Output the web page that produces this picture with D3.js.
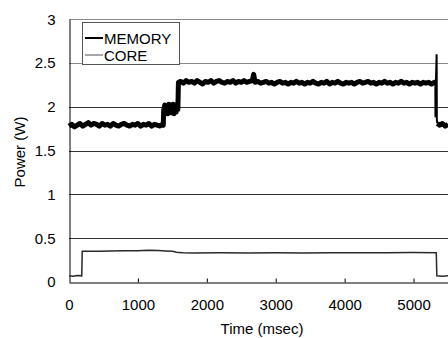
<!DOCTYPE html>
<html>
<head>
<meta charset="utf-8">
<script src="https://cdn.jsdelivr.net/npm/d3@7"></script>
<style>
body{margin:0;background:#fff;}
text{font-family:"Liberation Sans",Arial,sans-serif;font-size:15px;fill:#000;}
</style>
</head>
<body>
<div id="chart"></div>
<script>
// data
var xTicks = [0,1000,2000,3000,4000,5000];
var yTicks = [0,0.5,1,1.5,2,2.5,3];
var seriesNames = ["MEMORY","CORE"];

var memory = [
 [0,1.78],[40,1.80],[80,1.77],[120,1.79],[160,1.81],[200,1.78],[240,1.80],[280,1.82],[320,1.79],[360,1.81],
 [400,1.80],[440,1.78],[480,1.81],[520,1.79],[560,1.80],[600,1.78],[640,1.81],[680,1.79],[720,1.78],[760,1.80],
 [800,1.81],[840,1.79],[880,1.78],[920,1.80],[960,1.79],[1000,1.81],[1040,1.78],[1080,1.80],[1120,1.79],[1160,1.81],
 [1200,1.78],[1240,1.80],[1280,1.79],[1320,1.78],[1355,1.80],
 [1368,1.79],[1374,1.96],
 [1390,2.02],[1405,1.93],[1420,2.01],[1435,1.92],[1450,2.03],[1465,1.94],[1480,2.02],[1495,1.93],[1510,2.03],
 [1525,1.92],[1540,2.02],[1555,1.94],[1570,2.02],[1580,1.97],
 [1588,2.28],
 [1620,2.29],[1660,2.27],[1700,2.30],[1740,2.28],[1780,2.29],[1820,2.27],[1860,2.30],[1900,2.28],[1940,2.26],[1980,2.29],
 [2020,2.28],[2060,2.30],[2100,2.27],[2140,2.29],[2180,2.30],[2220,2.28],[2260,2.27],[2300,2.29],[2340,2.28],[2380,2.30],
 [2420,2.27],[2460,2.29],[2500,2.28],[2540,2.30],[2580,2.28],[2620,2.29],[2660,2.30],[2680,2.37],[2700,2.28],[2740,2.29],
 [2780,2.27],[2820,2.28],[2860,2.29],[2900,2.27],[2940,2.28],[2980,2.26],[3020,2.28],[3060,2.29],[3100,2.27],[3140,2.28],
 [3180,2.26],[3220,2.28],[3260,2.27],[3300,2.29],[3340,2.27],[3380,2.28],[3420,2.26],[3460,2.28],[3500,2.27],[3540,2.29],
 [3580,2.27],[3620,2.26],[3660,2.28],[3700,2.27],[3740,2.29],[3780,2.26],[3820,2.28],[3860,2.27],[3900,2.29],[3940,2.27],
 [3980,2.26],[4020,2.28],[4060,2.27],[4100,2.28],[4140,2.26],[4180,2.28],[4220,2.29],[4260,2.27],[4300,2.28],[4340,2.29],
 [4380,2.27],[4420,2.28],[4460,2.26],[4500,2.28],[4540,2.27],[4580,2.29],[4620,2.27],[4660,2.28],[4700,2.26],[4740,2.28],
 [4780,2.27],[4820,2.29],[4860,2.27],[4900,2.28],[4940,2.26],[4980,2.28],[5020,2.27],[5060,2.28],[5100,2.26],[5140,2.28],
 [5180,2.27],[5220,2.28],[5260,2.26],[5300,2.28],[5312,2.28]
];
// short spike where the run ends, then the idle tail
var memorySpike = [[5312,2.28],[5316,2.29],[5318,1.88],[5324,2.26],[5335,2.60],[5338,1.85],[5345,1.81]];
var memoryTail = [[5345,1.81],[5380,1.79],[5420,1.81],[5460,1.78],[5500,1.80]];

var core = [
 [0,0.07],[60,0.065],[120,0.075],[185,0.07],[192,0.35],[300,0.352],[450,0.35],[600,0.355],[800,0.357],[1000,0.358],
 [1150,0.362],[1300,0.36],[1400,0.355],[1500,0.35],[1560,0.34],[1650,0.335],[1800,0.332],[2200,0.335],[2600,0.332],
 [3000,0.335],[3400,0.332],[3800,0.335],[4200,0.333],[4600,0.335],[5000,0.336],[5330,0.333],[5338,0.07],[5420,0.065],[5500,0.07]
];

var W = 448, H = 338;
var svg = d3.select("#chart").append("svg").attr("width",W).attr("height",H);

var x = d3.scaleLinear().domain([0,5500]).range([69,448]);
var y = d3.scaleLinear().domain([0,3]).range([282,19.2]);

// grid
svg.selectAll(".grid")
  .data(yTicks.filter(function(d){return d>0;}))
  .enter()
  .append("line")
  .attr("x1",x(0)).attr("x2",W)
  .attr("y1",function(d){return Math.round(y(d))+0.5;})
  .attr("y2",function(d){return Math.round(y(d))+0.5;})
  .attr("stroke",function(d){return d>=2.5 ? "#8a8a8a" : "#333";})
  .attr("stroke-width",1);

// axes
var xAxis = svg.append("g").attr("transform","translate(0,282.5)")
  .call(d3.axisBottom(x).tickValues(xTicks).tickSize(-4).tickSizeOuter(0).tickPadding(17).tickFormat(d3.format("d")));
var yAxis = svg.append("g").attr("transform","translate(69.5,0)")
  .call(d3.axisLeft(y).tickValues(yTicks).tickSize(0).tickSizeOuter(0).tickPadding(14).tickFormat(function(d){return String(d);}));
svg.selectAll(".domain").attr("stroke","#000");
svg.selectAll(".tick line").attr("stroke","#000");
svg.selectAll(".tick text").style("font-size","15px").attr("fill","#000");
xAxis.select(".tick line").remove();

// lines
var line = d3.line().x(function(d){return x(d[0]);}).y(function(d){return y(d[1]);});
svg.append("path").datum(core).attr("d",line)
  .attr("fill","none").attr("stroke","#2a2a2a").attr("stroke-width",1.5);
[memory, memoryTail].forEach(function(seg){
  svg.append("path").datum(seg).attr("d",line)
    .attr("fill","none").attr("stroke","#000").attr("stroke-width",5).attr("stroke-linejoin","round");
});
svg.append("path").datum(memorySpike).attr("d",line)
  .attr("fill","none").attr("stroke","#000").attr("stroke-width",2);

// legend
var lg = svg.append("g");
lg.append("rect").attr("x",82.5).attr("y",22.5).attr("width",97).attr("height",42)
  .attr("fill","#fff").attr("stroke","#555");
seriesNames.forEach(function(n,i){
  var cy = 38 + i*17;
  lg.append("line").attr("x1",85).attr("x2",103).attr("y1",cy).attr("y2",cy)
    .attr("stroke", i==0 ? "#000" : "#888").attr("stroke-width", i==0 ? 2 : 1.5);
  lg.append("text").attr("x",104).attr("y",cy+5.5).text(n);
});

// titles
svg.append("text").attr("x",262).attr("y",334).attr("text-anchor","middle").text("Time (msec)");
svg.append("text").attr("transform","translate(25,152) rotate(-90)").attr("text-anchor","middle").text("Power (W)");
</script>
</body>
</html>
